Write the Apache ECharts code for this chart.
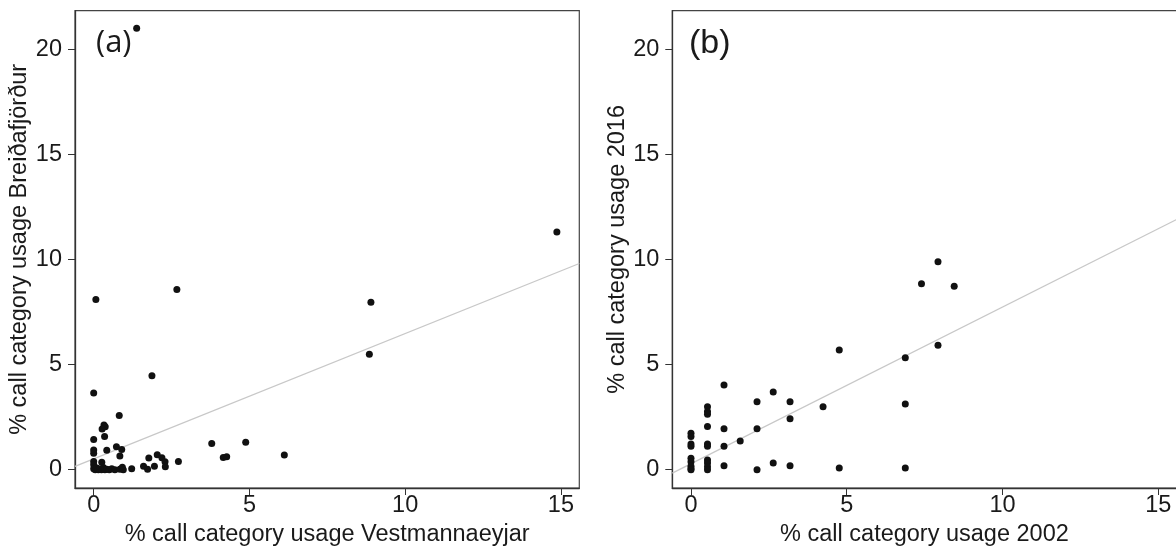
<!DOCTYPE html>
<html>
<head>
<meta charset="utf-8">
<script src="https://cdn.jsdelivr.net/npm/echarts@6/dist/echarts.min.js"></script>
<style>
html,body{margin:0;padding:0;background:#fff;overflow:hidden;}
#c{width:1180px;height:552px;}
</style>
</head>
<body>
<div id="c"></div>
<script>
// ---- Data ----
const xTicks = [0, 5, 10, 15];
const yTicks = [0, 5, 10, 15, 20];
const panelLabels = ['(a)', '(b)'];
const xTitles = ['% call category usage Vestmannaeyjar', '% call category usage 2002'];
const yTitles = ['% call category usage Breiðafjörður', '% call category usage 2016'];

// Panel (a): Vestmannaeyjar vs Breiðafjörður
const xA = [1.38, 14.87, 0.07, 2.67, 8.9, 8.85, 1.87, 0, 0.82, 0.33, 0.37, 0.27, 0.35, 0, 0, 0,
  0.42, 0.73, 0.9, 0.84, 0, 0, 0.26, 0, 0.05, 0.1, 0.15, 0.2, 0.25, 0.31, 0.36, 0.42, 0.5,
  0.58, 0.68, 0.84, 0.92, 0.95, 1.22, 1.6, 1.73, 1.77, 1.95, 2.04, 2.19, 2.29, 2.3, 2.72,
  3.79, 4.16, 4.27, 4.88, 6.12];
const yA = [21.0, 11.3, 8.1, 8.57, 7.96, 5.49, 4.47, 3.65, 2.58, 2.13, 2.04, 1.94, 1.58, 1.44, 0.94, 0.78,
  0.92, 1.09, 0.96, 0.65, 0.39, 0.24, 0.36, 0.05, 0.0, 0.08, 0.0, 0.03, 0.0, 0.1, 0.0, 0.02, 0.0,
  0.05, 0.0, 0.02, 0.12, 0.0, 0.05, 0.17, 0.02, 0.56, 0.17, 0.71, 0.57, 0.38, 0.14, 0.39,
  1.25, 0.58, 0.62, 1.31, 0.70];
// Panel (b): 2002 vs 2016
const xB = [0, 0, 0, 0, 0, 0, 0, 0, 0,
  0.53, 0.53, 0.53, 0.53, 0.53, 0.53, 0.53, 0.53, 0.53, 0.53,
  1.06, 1.06, 1.06, 1.06, 1.58, 2.12, 2.12, 2.12, 2.64, 2.64,
  3.18, 3.18, 3.18, 4.24, 4.76, 4.76, 6.88, 6.88, 6.88, 7.40, 7.93, 7.93, 8.45];
const yB = [1.73, 1.58, 1.22, 1.11, 0.54, 0.38, 0.17, 0.05, 0,
  3.0, 2.77, 2.64, 2.06, 1.22, 1.11, 0.46, 0.32, 0.14, 0,
  4.03, 1.95, 1.12, 0.19, 1.36, 3.23, 1.95, 0, 3.70, 0.32,
  3.23, 2.42, 0.19, 3.0, 5.69, 0.08, 5.33, 3.12, 0.08, 8.84, 9.89, 5.92, 8.73];
// Fitted lines: [intercept, slope]
const fitA = [0.515, 0.596];
const fitB = [0.283, 0.745];
// Axis ranges
const X_MIN = -0.6, X_MAX = 15.59, Y_MIN = -0.87, Y_MAX = 21.83;

// ---- Build chart ----
const FONT = '"Liberation Sans", Arial, Helvetica, sans-serif';
const TXT = '#1a1a1a';
const AX = '#333';
const FS = 23.5;

function pts(xs, ys) { return xs.map((x, i) => [x, ys[i]]); }
function fitLine(f) { return [[X_MIN, f[0] + f[1] * X_MIN], [X_MAX, f[0] + f[1] * X_MAX]]; }

const grids = [
  {left: 75, top: 10.7, width: 504.3, height: 478.6},
  {left: 672.3, top: 10.7, width: 504.3, height: 478.6}
].map(g => Object.assign(g, {show: true, borderColor: '#444', borderWidth: 1.2, backgroundColor: 'transparent'}));

function xAxis(i) {
  return {
    type: 'value', gridIndex: i, min: X_MIN, max: X_MAX,
    name: xTitles[i], nameLocation: 'middle', nameGap: 35,
    nameTextStyle: {fontFamily: FONT, fontSize: FS, color: TXT},
    axisLine: {show: true, onZero: false, lineStyle: {color: AX, width: 1.3}},
    axisTick: {show: true, length: 7, lineStyle: {color: AX, width: 1}, customValues: xTicks},
    axisLabel: {margin: 6, fontFamily: FONT, fontSize: FS, color: TXT, customValues: xTicks},
    splitLine: {show: false}
  };
}
function yAxis(i) {
  return {
    type: 'value', gridIndex: i, min: Y_MIN, max: Y_MAX,
    name: yTitles[i], nameLocation: 'middle', nameGap: 42, nameRotate: 90,
    nameTextStyle: {fontFamily: FONT, fontSize: FS, color: TXT},
    axisLine: {show: true, onZero: false, lineStyle: {color: AX, width: 1.3}},
    axisTick: {show: true, length: 7, lineStyle: {color: AX, width: 1}, customValues: yTicks},
    axisLabel: {margin: 13, fontFamily: FONT, fontSize: FS, color: TXT, customValues: yTicks},
    splitLine: {show: false}
  };
}

const chart = echarts.init(document.getElementById('c'), null, {renderer: 'canvas'});
chart.setOption({
  animation: false,
  backgroundColor: '#fff',
  grid: grids,
  xAxis: [xAxis(0), xAxis(1)],
  yAxis: [yAxis(0), yAxis(1)],
  graphic: [
    {type: 'text', left: 96, top: 28, style: {text: panelLabels[0], font: '31px "Open Sans", Lato, sans-serif', fill: TXT}},
    {type: 'text', left: 689, top: 27, style: {text: panelLabels[1], font: '34px "Liberation Sans", Arial, sans-serif', fill: TXT}}
  ],
  series: [
    {type: 'line', xAxisIndex: 0, yAxisIndex: 0, data: fitLine(fitA), showSymbol: false, symbol: 'none',
      lineStyle: {color: '#c8c8c8', width: 1.3}, z: 1, silent: true},
    {type: 'line', xAxisIndex: 1, yAxisIndex: 1, data: fitLine(fitB), showSymbol: false, symbol: 'none',
      lineStyle: {color: '#c8c8c8', width: 1.3}, z: 1, silent: true},
    {type: 'scatter', xAxisIndex: 0, yAxisIndex: 0, data: pts(xA, yA), symbol: 'circle', symbolSize: 7,
      itemStyle: {color: '#111', opacity: 1}, z: 3},
    {type: 'scatter', xAxisIndex: 1, yAxisIndex: 1, data: pts(xB, yB), symbol: 'circle', symbolSize: 7,
      itemStyle: {color: '#111', opacity: 1}, z: 3}
  ]
});
</script>
</body>
</html>
